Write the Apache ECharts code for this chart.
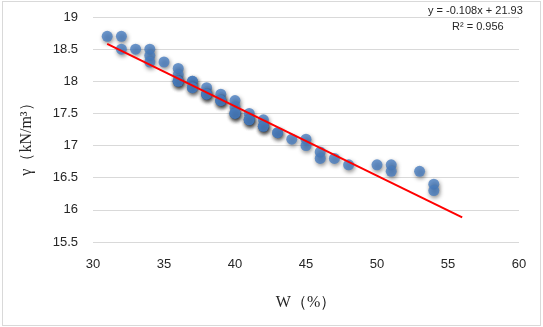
<!DOCTYPE html>
<html>
<head>
<meta charset="utf-8">
<script src="https://cdn.jsdelivr.net/npm/echarts@6/dist/echarts.min.js"></script>
<style>
  html, body { margin: 0; padding: 0; background: #fff; }
  #chart { position: absolute; left: 0; top: 0; width: 543px; height: 327px; }
  .frame { position: absolute; left: 2px; top: 1px; width: 537px; height: 323px; border: 1px solid #d9d9d9; pointer-events: none; }
</style>
</head>
<body>
<div id="chart"></div>
<div class="frame"></div>
<script>
// water content W (%) and unit weight γ (kN/m³), repeated readings kept as separate samples
const waterContent = [
  31, 32, 32, 33, 34, 34, 34, 35,
  36, 36, 36, 36, 36, 37, 37, 37, 37, 38, 38, 38, 38,
  39, 39, 39, 39, 40, 40, 40, 40, 40, 41, 41, 41, 41, 42, 42, 42, 42, 43, 43,
  44, 45, 45, 46, 46, 47, 48, 50, 51, 51, 53, 54, 54
];
const unitWeight = [
  18.7, 18.7, 18.5, 18.5, 18.5, 18.4, 18.3, 18.3,
  18.2, 18.1, 18.0, 18.0, 18.0, 18.0, 18.0, 17.9, 17.9, 17.9, 17.8, 17.8, 17.8,
  17.8, 17.7, 17.7, 17.7, 17.7, 17.6, 17.5, 17.5, 17.5, 17.5, 17.4, 17.4, 17.4, 17.4, 17.3, 17.3, 17.3, 17.2, 17.2,
  17.1, 17.1, 17.0, 16.9, 16.8, 16.8, 16.7, 16.7, 16.7, 16.6, 16.6, 16.4, 16.3
];
// linear fit shown on the chart
const fitSlope = -0.108;
const fitIntercept = 21.93;
const fitRange = [31, 56];
const fitLabel = ['y = -0.108x + 21.93', 'R² = 0.956'];

const points = waterContent.map((w, i) => [w, unitWeight[i]]);
const fitLine = fitRange.map((w) => [w, +(fitIntercept + fitSlope * w).toFixed(3)]);

const chart = echarts.init(document.getElementById('chart'));
const sans = '"Liberation Sans", Arial, sans-serif';
const serif = '"Liberation Serif", "Times New Roman", serif';

chart.setOption({
  animation: false,
  grid: { left: 93, right: 24, top: 17, bottom: 85 },
  xAxis: {
    type: 'value',
    min: 30,
    max: 60,
    interval: 5,
    name: 'W（%）',
    nameLocation: 'middle',
    nameGap: 53,
    nameTextStyle: { fontFamily: serif, fontSize: 16, color: '#262626' },
    axisLine: { show: false },
    axisTick: { show: false },
    axisLabel: { fontFamily: sans, fontSize: 13, color: '#262626', margin: 16 },
    splitLine: { show: false }
  },
  yAxis: {
    type: 'value',
    min: 15.5,
    max: 19,
    interval: 0.5,
    name: 'γ（kN/m³）',
    nameLocation: 'middle',
    nameGap: 58,
    nameTextStyle: { fontFamily: serif, fontSize: 16, color: '#262626', padding: [0, 0, 0, -12] },
    axisLine: { show: false },
    axisTick: { show: false },
    axisLabel: { fontFamily: sans, fontSize: 13, color: '#262626', margin: 15 },
    splitLine: { lineStyle: { color: '#d9d9d9', width: 1 } }
  },
  graphic: [
    {
      type: 'text',
      left: 428,
      top: 5,
      style: { text: fitLabel[0], font: '11px ' + sans, fill: '#262626' }
    },
    {
      type: 'text',
      left: 452,
      top: 21,
      style: { text: fitLabel[1], font: '11px ' + sans, fill: '#262626' }
    }
  ],
  series: [
    {
      type: 'scatter',
      data: points,
      symbolSize: 11,
      itemStyle: {
        color: '#4a7ec0',
        shadowColor: 'rgba(0, 0, 0, 0.55)',
        shadowBlur: 4,
        shadowOffsetX: 1,
        shadowOffsetY: 2
      },
      z: 2
    },
    {
      type: 'line',
      data: fitLine,
      symbol: 'none',
      lineStyle: { color: '#ff0000', width: 2 },
      z: 3
    }
  ]
});
</script>
</body>
</html>
